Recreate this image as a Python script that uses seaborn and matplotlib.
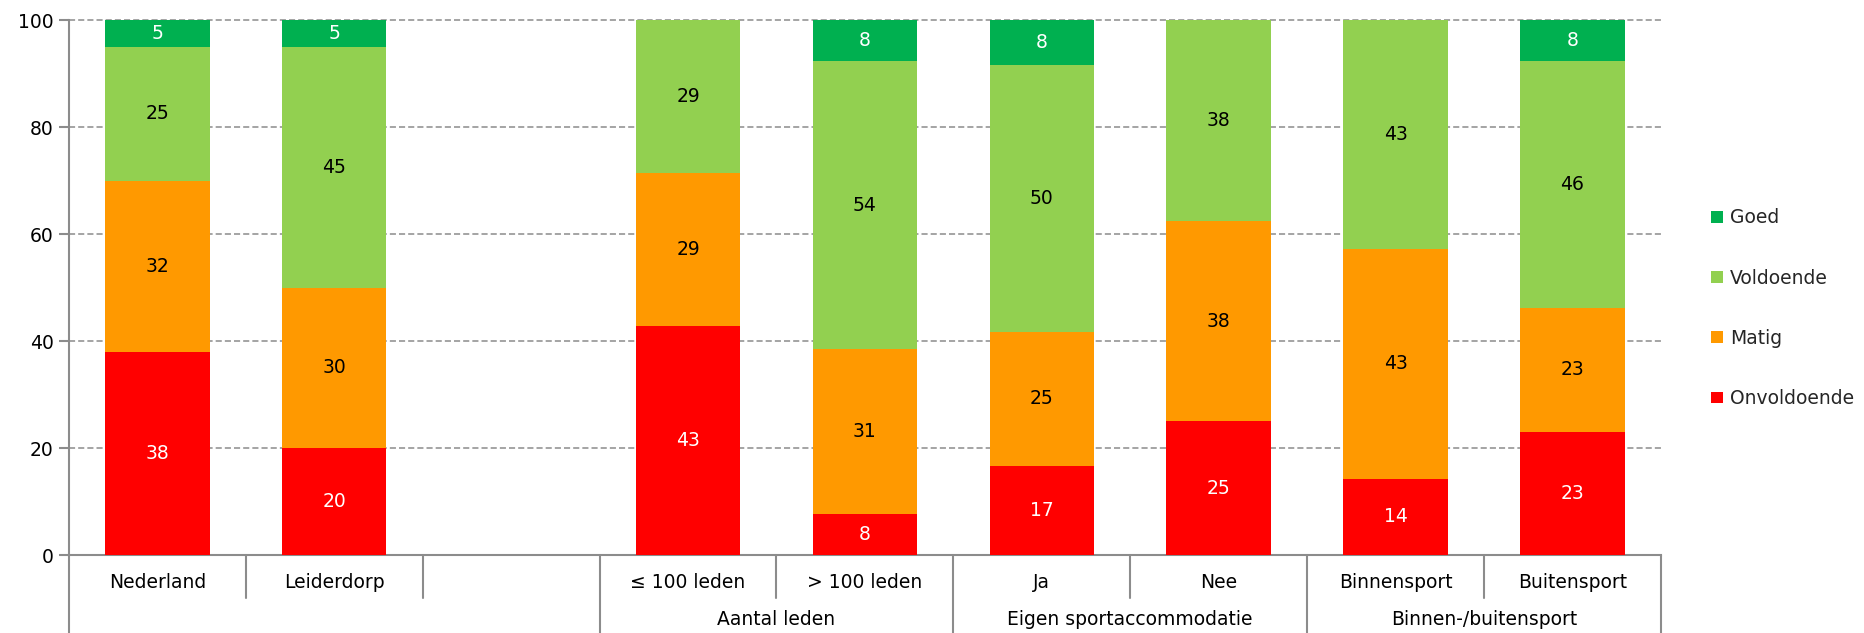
import matplotlib
matplotlib.use("Agg")
import matplotlib.pyplot as plt
from matplotlib.patches import Patch
import seaborn as sns
import pandas as pd
import numpy as np

# ---- data ----
categories = ["Nederland", "Leiderdorp", "", "\u2264 100 leden", "> 100 leden",
              "Ja", "Nee", "Binnensport", "Buitensport"]
onvoldoende = [38, 20, 0, 42.9, 7.7, 16.7, 25.0, 14.3, 23.1]
matig = [32, 30, 0, 28.6, 30.8, 25.0, 37.5, 42.9, 23.1]
voldoende = [25, 45, 0, 28.6, 53.8, 50.0, 37.5, 42.9, 46.2]
goed = [5, 5, 0, 0, 7.7, 8.3, 0, 0, 7.7]
groups = ["Aantal leden", "Eigen sportaccommodatie", "Binnen-/buitensport"]
group_spans = [(3, 4), (5, 6), (7, 8)]

series_names = ["Onvoldoende", "Matig", "Voldoende", "Goed"]
series_vals = [onvoldoende, matig, voldoende, goed]
colors = {"Goed": "#00B050", "Voldoende": "#92D050", "Matig": "#FF9900", "Onvoldoende": "#FF0000"}
label_colors = {"Goed": "white", "Voldoende": "black", "Matig": "black", "Onvoldoende": "white"}

# unique placeholder keys for categorical axis
keys = [f"c{i}" for i in range(len(categories))]

sns.set_theme(style="white")
plt.rcParams["font.family"] = ["DejaVu Sans"]
FS = 13.5

fig = plt.figure(figsize=(18.64, 6.33), dpi=100)
ax = fig.add_axes([0.037, 0.123, 0.854, 0.845])

vals = np.array(series_vals, dtype=float)
cum = np.cumsum(vals, axis=0)
# draw from top cumulative to bottom so lower segments overlay
for si in range(len(series_names) - 1, -1, -1):
    df = pd.DataFrame({"cat": keys, "top": cum[si]})
    sns.barplot(data=df, x="cat", y="top", order=keys, color=colors[series_names[si]],
                width=0.59, saturation=1, ax=ax, zorder=3, linewidth=0)

# labels
for si, name in enumerate(series_names):
    for i in range(len(keys)):
        v = vals[si, i]
        if v <= 0:
            continue
        y = cum[si, i] - v / 2
        ax.text(i, y, f"{v:.0f}", ha="center", va="center", fontsize=FS,
                color=label_colors[name], zorder=5)

ax.set_ylim(0, 100)
ax.set_xlim(-0.5, len(keys) - 0.5)
ax.set_yticks([0, 20, 40, 60, 80, 100])
ax.set_yticklabels(["0", "20", "40", "60", "80", "100"], fontsize=FS)
ax.set_xticks([])
ax.set_xlabel("")
ax.set_ylabel("")
ax.yaxis.grid(True, linestyle=(0, (4, 2)), color="#8c8c8c", linewidth=1.1, zorder=0)
for gl in ax.get_ygridlines():
    gl.set_clip_on(False)
ax.set_axisbelow(True)
for s in ["top", "right"]:
    ax.spines[s].set_visible(False)
ax.spines["left"].set_color("#8c8c8c")
ax.spines["left"].set_linewidth(1.5)
ax.spines["bottom"].set_color("#8c8c8c")
ax.spines["bottom"].set_linewidth(1.5)
ax.tick_params(axis="y", left=True, length=7, width=1.5, color="#8c8c8c", pad=4, labelcolor="black")

# multi-level x axis
trans = ax.get_xaxis_transform()
row1_y = -0.052
row1_end = -0.081
row2_y = -0.121
bottom_end = -0.16
for i, lab in enumerate(categories):
    ax.text(i, row1_y, lab, transform=trans, ha="center", va="center", fontsize=FS, color="black")
long_bounds = [-0.5, 2.5, 4.5, 6.5, 8.5]
for b in np.arange(-0.5, len(keys), 1.0):
    end = bottom_end if any(abs(b - lb) < 1e-9 for lb in long_bounds) else row1_end
    ax.plot([b, b], [0, end], transform=trans, color="#8c8c8c", linewidth=1.5, clip_on=False, zorder=4)
for g, (a, b) in zip(groups, group_spans):
    ax.text((a + b) / 2, row2_y, g, transform=trans, ha="center", va="center", fontsize=FS, color="black")

# legend
handles = [Patch(facecolor=colors[n], edgecolor="none", label=n)
           for n in ["Goed", "Voldoende", "Matig", "Onvoldoende"]]
fig.legend(handles=handles, loc="center left", bbox_to_anchor=(0.909, 0.513), frameon=False,
           fontsize=FS, handlelength=0.6, handleheight=0.6, handletextpad=0.4, labelspacing=2.2)

fig.savefig("out.png", dpi=100)
